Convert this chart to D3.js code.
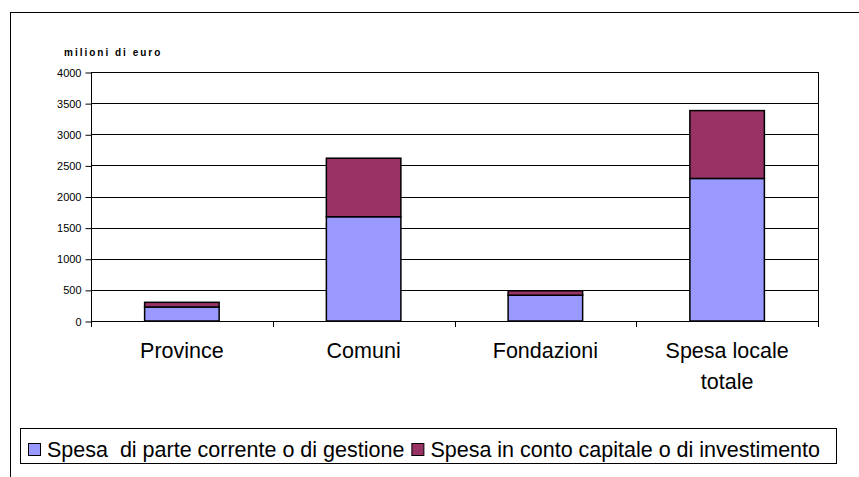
<!DOCTYPE html>
<html><head><meta charset="utf-8">
<script src="https://cdn.jsdelivr.net/npm/d3@7"></script>
<style>body{margin:0;background:#fff}svg{display:block}text{font-family:"Liberation Sans",Arial,sans-serif}</style>
</head><body><svg id="c" width="859" height="477"></svg>
<script>
const categories = [["Province"],["Comuni"],["Fondazioni"],["Spesa locale","totale"]];
const seriesNames = ["Spesa  di parte corrente o di gestione","Spesa in conto capitale o di investimento"];
const correnti = [225, 1675, 415, 2290];
const capitale = [75, 940, 70, 1090];
const yTicks = [0,500,1000,1500,2000,2500,3000,3500,4000];
const colors = ["#9999FF","#993366"];

const svg = d3.select("#c");
// outer frame
svg.append("rect").attr("x",10.5).attr("y",12.5).attr("width",860).attr("height",480)
  .attr("fill","none").attr("stroke","#000").attr("stroke-width",1);

const L=91, R=818, T=72, B=321;
const x = d3.scaleBand().domain(d3.range(categories.length)).range([L,R]).paddingInner(0.59).paddingOuter(0.295);
const y = d3.scaleLinear().domain([0,4000]).range([B,T]);

// gridlines
svg.append("g").selectAll("line").data(yTicks.slice(1)).join("line")
  .attr("x1",L).attr("x2",R).attr("y1",d=>Math.round(y(d))+0.5).attr("y2",d=>Math.round(y(d))+0.5)
  .attr("stroke","#000").attr("stroke-width",1);
// right border
svg.append("line").attr("x1",R+0.5).attr("x2",R+0.5).attr("y1",T).attr("y2",B).attr("stroke","#000");

// y axis
const ya = svg.append("g").attr("transform",`translate(${L+0.5},0.5)`)
  .call(d3.axisLeft(y).tickValues(yTicks).tickSize(6).tickPadding(4).tickFormat(d3.format("d")));
ya.select(".domain").attr("stroke","#000").attr("d",`M0,${T}V${B}`);
ya.selectAll(".tick line").attr("stroke","#000");
ya.selectAll("text").attr("font-size",11).attr("fill","#000").attr("font-family","Liberation Sans, Arial");

// x axis
const bw = (R-L)/categories.length;
const xa = svg.append("g");
xa.append("line").attr("x1",L).attr("x2",R).attr("y1",B+0.5).attr("y2",B+0.5).attr("stroke","#000");
xa.selectAll("line.t").data(d3.range(categories.length+1)).join("line").attr("class","t")
  .attr("x1",i=>Math.round(L+i*bw)+0.5).attr("x2",i=>Math.round(L+i*bw)+0.5)
  .attr("y1",B).attr("y2",B+6).attr("stroke","#000");
const labs = xa.selectAll("text").data(categories).join("text")
  .attr("text-anchor","middle").attr("font-size",21.5).attr("fill","#000")
  .attr("transform",(d,i)=>`translate(${x(i)+x.bandwidth()/2},0)`);
labs.selectAll("tspan").data(d=>d).join("tspan").attr("x",0).attr("y",(d,j)=>358+j*31).text(d=>d);

// bars
const stackData = categories.map((c,i)=>[[0,correnti[i]],[correnti[i],correnti[i]+capitale[i]]]);
[0,1].forEach(s=>{
  svg.append("g").selectAll("rect").data(stackData).join("rect")
    .attr("x",(d,i)=>x(i)).attr("width",x.bandwidth())
    .attr("y",d=>y(d[s][1])).attr("height",d=>y(d[s][0])-y(d[s][1]))
    .attr("fill",colors[s]).attr("stroke","#000").attr("stroke-width",1.5);
});

// y title
svg.append("text").attr("x",64).attr("y",56).attr("font-size",10).attr("font-weight","bold")
  .attr("letter-spacing",2).text("milioni di euro");

// legend
const lg = svg.append("g");
lg.append("rect").attr("x",20.5).attr("y",428.5).attr("width",816).attr("height",35)
  .attr("fill","#fff").attr("stroke","#000");
let lx = 28;
seriesNames.forEach((n,i)=>{
  lg.append("rect").attr("x",lx+0.5).attr("y",443.5).attr("width",12).attr("height",12)
    .attr("fill",colors[i]).attr("stroke","#000");
  const t = lg.append("text").attr("x",lx+19).attr("y",457).attr("font-size",21.5)
    .style("white-space","pre").text(n);
  lx = lx + 19 + t.node().getComputedTextLength() + 7;
});
</script></body></html>
